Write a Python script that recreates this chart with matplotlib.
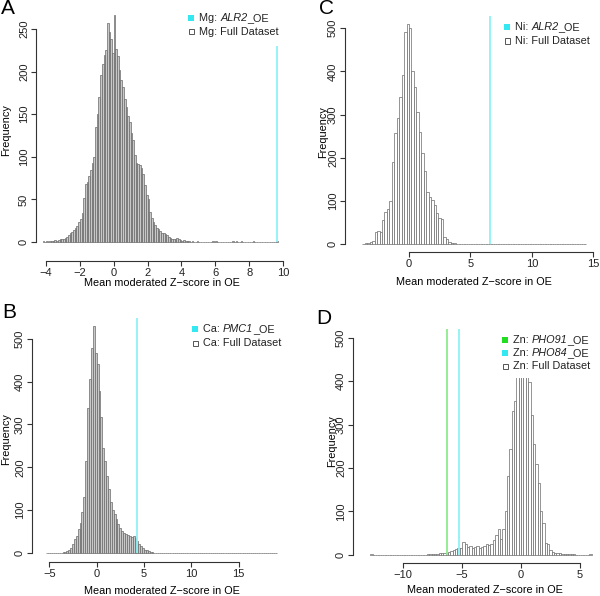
import matplotlib
matplotlib.use("Agg")
import matplotlib.pyplot as plt
from matplotlib.patches import Rectangle
import numpy as np

plt.rcParams['font.family'] = ['Liberation Sans', 'DejaVu Sans']

# ---------------- data ----------------
# Panel A: Mg
a_start, a_width = -4.2, 0.1
a_counts = [1, 0, 1, 0, 1, 1, 1, 2, 1, 2,
            3, 3, 4, 5, 6, 8, 10, 12, 14, 16,
            19, 23, 27, 34, 52, 68, 70, 77, 85, 93,
            100, 135, 150, 170, 196, 209, 219, 225, 257, 247,
            238, 222, 266, 227, 218, 202, 190, 182, 168, 159,
            148, 141, 128, 120, 102, 93, 92, 90, 87, 80,
            67, 55, 50, 35, 28, 24, 20, 17, 15, 13,
            11, 10, 9, 8, 6, 5, 4, 4, 3, 5,
            3, 2, 1, 2, 1, 1, 1, 0, 1, 0,
            0, 1, 0, 0, 0, 0, 0, 0, 0, 0,
            1, 0, 1, 0, 0, 0, 0, 0, 0, 0,
            0, 0, 1, 0, 1, 0, 0, 1, 0, 0,
            0, 0, 0, 0, 1, 0, 0, 0, 0, 0,
            0, 0, 0, 0, 0, 0, 0, 0, 1]
a_lines = [9.65]

# Panel B: Ca
b_start, b_width = -5.4, 0.2
b_counts = [1, 1, 0, 0, 1, 0, 1, 1, 1, 2,
            3, 5, 8, 12, 20, 32, 40, 55, 70, 95,
            130, 215, 338, 406, 478, 530, 467, 441, 378, 318,
            245, 215, 180, 150, 120, 100, 90, 80, 68, 58,
            52, 47, 44, 42, 40, 38, 40, 34, 28, 22,
            16, 12, 8, 6, 4, 2, 2, 1, 0, 0,
            0, 0, 0, 0, 0, 0, 1, 0, 0, 0,
            0, 0, 0, 0, 1, 0, 0, 0, 0, 0,
            0, 0, 0, 0, 0, 0, 0, 0, 0, 0,
            0, 0, 0, 0, 0, 0, 0, 0, 0, 0,
            0, 0, 0, 0, 0, 0, 0, 0, 0, 0,
            0, 0, 0, 0, 0, 0, 0, 0, 0, 0,
            0, 1]
b_lines = [4.22]

# Panel C: Ni
c_start, c_width = -3.8, 0.2
c_counts = [1, 2, 3, 5, 8, 28, 30, 28, 56, 75,
            80, 100, 190, 257, 293, 341, 392, 492, 510, 500,
            400, 365, 307, 260, 210, 170, 120, 110, 102, 90,
            71, 60, 58, 17, 11, 4, 3, 2, 1, 1,
            1, 0, 0, 0, 0, 0, 0, 0, 0, 0,
            0, 1, 0, 0, 1, 0, 0, 0, 0, 0,
            0, 0, 0, 0, 0, 0, 0, 0, 0, 0,
            0, 0, 0, 0, 0, 0, 0, 0, 0, 0,
            0, 0, 0, 0, 0, 0, 0, 0, 0, 0,
            1]
c_lines = [6.6]

# Panel D: Zn
d_start, d_width = -12.8, 0.2
d_counts = [1, 0, 0, 0, 0, 0, 0, 0, 0, 0,
            0, 0, 0, 0, 0, 0, 0, 0, 0, 0,
            0, 0, 0, 0, 1, 1, 1, 2, 2, 3,
            4, 4, 5, 6, 8, 10, 12, 15, 15, 30,
            25, 18, 20, 15, 18, 20, 15, 18, 20, 25,
            22, 25, 35, 45, 60, 37, 60, 100, 181, 243,
            330, 355, 430, 470, 490, 470, 440, 397, 323, 255,
            210, 166, 100, 74, 28, 24, 11, 7, 4, 3,
            3, 2, 2, 1, 1, 1, 1, 0, 0, 0,
            0, 0, 0, 1]
d_lines = [-6.31, -5.29]

W, H = 600, 596
fig = plt.figure(figsize=(W / 100, H / 100), dpi=100)
renderer = fig.canvas.get_renderer()

AX_COL = '#333333'
CYAN = '#33E8F0'
CYAN_LINE = '#8CF2F5'
GREEN = '#22DD22'
GREEN_LINE = '#8EEA8E'
FS = 7.8


def make_ax(calx, caly, left, right, top, bottom):
    (vx0, px0), (vx1, px1) = calx
    sx = (px1 - px0) / (vx1 - vx0)
    (vy0, py0), (vy1, py1) = caly
    sy = (py1 - py0) / (vy1 - vy0)
    xlim = (vx0 + (left - px0) / sx, vx0 + (right - px0) / sx)
    ylim = (vy0 + (bottom - py0) / sy, vy0 + (top - py0) / sy)
    ax = fig.add_axes([left / W, 1 - bottom / H, (right - left) / W, (bottom - top) / H])
    ax.set_xlim(*xlim)
    ax.set_ylim(*ylim)
    ax.patch.set_alpha(0)
    return ax


def style(ax, xticks, yticks):
    for s in ['top', 'right']:
        ax.spines[s].set_visible(False)
    for s in ['left', 'bottom']:
        ax.spines[s].set_color(AX_COL)
        ax.spines[s].set_linewidth(0.8)
    ax.spines['left'].set_bounds(yticks[0], yticks[-1])
    ax.spines['bottom'].set_bounds(xticks[0], xticks[-1])
    ax.set_xticks(xticks)
    ax.set_yticks(yticks)
    ax.set_xticklabels(['\u2212' + str(abs(t)) if t < 0 else str(t) for t in xticks])
    ax.set_yticklabels([str(t) for t in yticks], rotation=90, va='center')
    ax.tick_params(direction='out', length=3.5, width=0.8, color=AX_COL,
                   labelsize=8, labelcolor='#222222', pad=1.5)


def hist(ax, start, width, counts, fill, clip_top=None):
    edges = start + width * np.arange(len(counts))
    bars = ax.bar(edges, counts, width=width, align='edge', color=fill,
                  edgecolor='#6a6a6a', linewidth=0.5)
    if clip_top is not None:
        clip = Rectangle((ax.get_xlim()[0], ax.get_ylim()[0]),
                         ax.get_xlim()[1] - ax.get_xlim()[0],
                         clip_top - ax.get_ylim()[0], transform=ax.transData)
        for b in bars:
            b.set_clip_path(clip)


def legend(rows, text_x, centers):
    """rows: list of (parts, colour); centers: row centre y in pixels from top."""
    for (parts, col), cy in zip(rows, centers):
        sq = 6.0
        sx = text_x - 5.0 - sq
        if col is None:
            r = Rectangle(((sx + 0.5) / W, 1 - (cy + sq / 2 - 0.5) / H), (sq - 1.0) / W, (sq - 1.0) / H,
                          transform=fig.transFigure, facecolor='white', edgecolor='#555555', lw=0.7)
        else:
            r = Rectangle((sx / W, 1 - (cy + sq / 2) / H), sq / W, sq / H,
                          transform=fig.transFigure, facecolor=col, edgecolor='none')
        fig.add_artist(r)
        x = text_x
        base = cy + 3.0
        for s, st in parts:
            t = fig.text(x / W, 1 - base / H, s, fontsize=FS, fontstyle=st, color='#222222',
                         ha='left', va='baseline')
            x += t.get_window_extent(renderer).width


def ftext(x, y, s, va='center', **kw):
    fig.text(x / W, 1 - y / H, s, ha='center', va=va, **kw)


XL = 'Mean moderated Z\u2212score in OE'
N, I = 'normal', 'italic'

# ---- Panel A ----
axA = make_ax(((-4, 46), (10, 283)), ((0, 242), (250, 29)), 36, 292, 8, 261)
hist(axA, a_start, a_width, a_counts, '#C8C8C8')
axA.vlines(a_lines, 0, 230, color=CYAN_LINE, lw=1.3, zorder=3)
style(axA, [-4, -2, 0, 2, 4, 6, 8, 10], [0, 50, 100, 150, 200, 250])
legend([([('Mg: ', N), ('ALR2', I), ('_OE', N)], CYAN),
        ([('Mg: Full Dataset', N)], None)], 199, [17.7, 31.7])
ftext(161.7, 285.5, XL, va='baseline', fontsize=FS)
ftext(6, 130, 'Frequency', fontsize=FS, rotation=90)
ftext(8, 8, 'A', fontsize=15)

# ---- Panel B ----
axB = make_ax(((-5, 49.3), (15, 238.7)), ((0, 553), (500, 338.7)), 32, 292, 305, 562)
hist(axB, b_start, b_width, b_counts, '#C8C8C8')
axB.vlines(b_lines, 0, 549, color=CYAN_LINE, lw=1.3, zorder=3)
style(axB, [-5, 0, 5, 10, 15], [0, 100, 200, 300, 400, 500])
legend([([('Ca: ', N), ('PMC1', I), ('_OE', N)], CYAN),
        ([('Ca: Full Dataset', N)], None)], 203, [328.7, 343])
ftext(161.7, 594.5, XL, va='baseline', fontsize=FS)
ftext(6, 439, 'Frequency', fontsize=FS, rotation=90)
ftext(9, 312, 'B', fontsize=15)

# ---- Panel C ----
axC = make_ax(((0, 409), (15, 593.3)), ((0, 244), (500, 28.3)), 345, 598, 8, 252.3)
hist(axC, c_start, c_width, c_counts, 'white')
axC.vlines(c_lines, 0, 529, color=CYAN_LINE, lw=1.3, zorder=3)
style(axC, [0, 5, 10, 15], [0, 100, 200, 300, 400, 500])
legend([([('Ni: ', N), ('ALR2', I), ('_OE', N)], CYAN),
        ([('Ni: Full Dataset', N)], None)], 515, [27, 41])
ftext(474, 285, XL, va='baseline', fontsize=FS)
ftext(323.3, 131.7, 'Frequency', fontsize=FS, rotation=90)
ftext(327, 9, 'C', fontsize=15)

# ---- Panel D ----
axD = make_ax(((-10, 403.3), (5, 580)), ((0, 554.7), (500, 337.7)), 353, 598, 305, 562.7)
hist(axD, d_start, d_width, d_counts, 'white', clip_top=406)
axD.vlines(d_lines[0], 0, 521, color=GREEN_LINE, lw=1.3, zorder=3)
axD.vlines(d_lines[1], 0, 521, color=CYAN_LINE, lw=1.3, zorder=3)
style(axD, [-10, -5, 0, 5], [0, 100, 200, 300, 400, 500])
legend([([('Zn: ', N), ('PHO91', I), ('_OE', N)], GREEN),
        ([('Zn: ', N), ('PHO84', I), ('_OE', N)], CYAN),
        ([('Zn: Full Dataset', N)], None)], 513, [340.3, 353, 366])
ftext(485, 593, XL, va='baseline', fontsize=FS)
ftext(332.3, 441, 'Frequency', fontsize=FS, rotation=90)
ftext(324, 319, 'D', fontsize=15)

fig.savefig('out.png', dpi=100)
